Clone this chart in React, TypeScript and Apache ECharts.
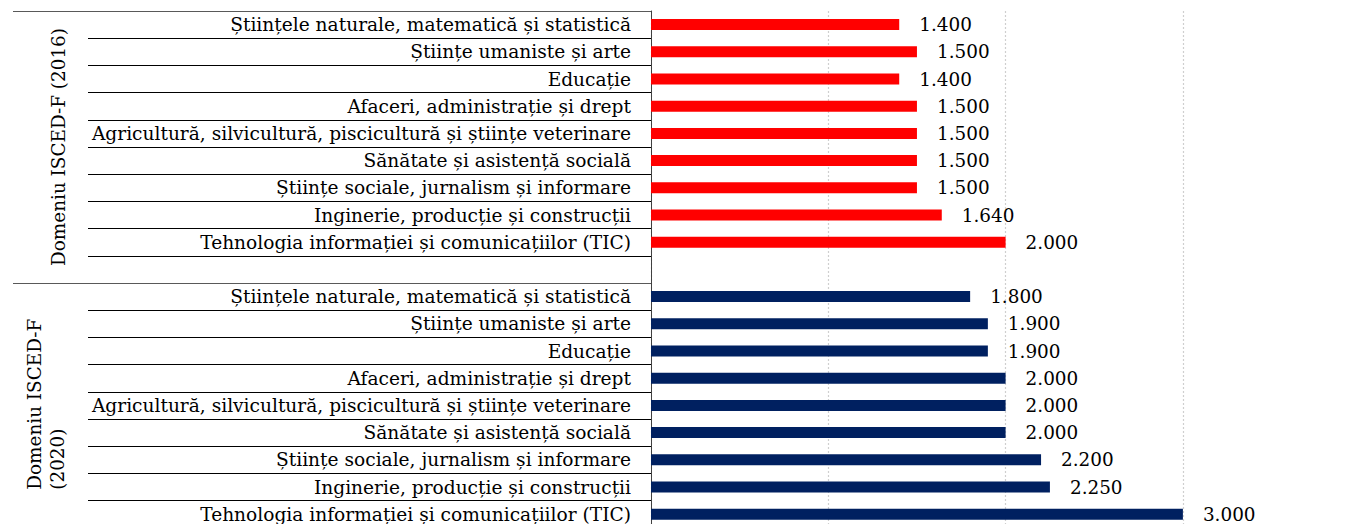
import React, { useEffect, useRef } from "react";
import * as echarts from "echarts";

const fields: string[] = [
  "Științele naturale, matematică și statistică",
  "Științe umaniste și arte",
  "Educație",
  "Afaceri, administrație și drept",
  "Agricultură, silvicultură, piscicultură și științe veterinare",
  "Sănătate și asistență socială",
  "Științe sociale, jurnalism și informare",
  "Inginerie, producție și construcții",
  "Tehnologia informației și comunicațiilor (TIC)",
];

const values2016: number[] = [1400, 1500, 1400, 1500, 1500, 1500, 1500, 1640, 2000];
const values2020: number[] = [1800, 1900, 1900, 2000, 2000, 2000, 2200, 2250, 3000];

const groupLabels: string[] = ["Domeniu ISCED-F (2016)", "Domeniu ISCED-F\n(2020)"];
const groupKeys: string[] = ["2016", "2020"];

const xTicks: number[] = [0, 1000, 2000, 3000, 4000];

const FONT = "'DejaVu Serif', 'Liberation Serif', serif";
const FS = 18.4;
const FS_CAT = 18.6;

function fmt(v: number): string {
  return String(v).replace(/\B(?=(\d{3})+(?!\d))/g, ".");
}

export default function App() {
  const ref = useRef<HTMLDivElement>(null);

  useEffect(() => {
    if (!ref.current) return;
    const chart = echarts.init(ref.current, undefined, { renderer: "svg" });

    // category list: each group = fields + one blank row
    const cats: string[] = [...fields, "", ...fields, ""];
    const n = cats.length;
    const d2016 = cats.map((_, i) => (i < fields.length ? values2016[i] : null));
    const d2020 = cats.map((_, i) => {
      const j = i - (fields.length + 1);
      return j >= 0 && j < fields.length ? values2020[j] : null;
    });

    const gridLeft = 651;
    const gridTop = 11;
    const rowH = 27.2;
    const gridH = rowH * n;
    const gridW = 709.2;

    const groupH = rowH * (fields.length + 1);

    const labelStyle = {
      show: true,
      position: "right" as const,
      distance: 20,
      color: "#000",
      fontFamily: FONT,
      fontSize: FS,
      formatter: (p: any) => (p.value == null ? "" : fmt(p.value)),
    };

    chart.setOption({
      animation: false,
      backgroundColor: "#fff",
      textStyle: { fontFamily: FONT },
      grid: {
        left: gridLeft,
        top: gridTop,
        width: gridW,
        height: gridH,
        containLabel: false,
        outerBoundsMode: "none",
      },
      xAxis: {
        type: "value",
        min: xTicks[0],
        max: xTicks[xTicks.length - 1],
        interval: xTicks[1] - xTicks[0],
        axisLabel: { show: false },
        axisLine: { show: false },
        axisTick: { show: false },
        splitLine: {
          show: true,
          lineStyle: { color: "#cfcfcf", width: 1.2, type: [2, 2] },
        },
      },
      yAxis: [
        {
          type: "category",
          data: cats,
          inverse: true,
          axisLine: { show: true, lineStyle: { color: "#404040", width: 1 } },
          axisTick: {
            show: true,
            interval: 0,
            length: gridLeft - 88,
            lineStyle: { color: "#000", width: 1 },
          },
          axisLabel: {
            interval: 0,
            margin: 20,
            color: "#000",
            fontFamily: FONT,
            fontSize: FS_CAT,
          },
          splitLine: { show: false },
        },
        {
          type: "category",
          data: groupKeys,
          inverse: true,
          position: "left",
          z: 5,
          axisLine: { show: false },
          axisTick: {
            show: true,
            interval: 0,
            length: gridLeft - 13,
            lineStyle: { color: "#595959", width: 1 },
          },
          axisLabel: { show: false },
          splitLine: { show: false },
        },
      ],
      series: [
        {
          name: "2016",
          type: "bar",
          yAxisIndex: 0,
          data: d2016,
          barWidth: 11,
          barGap: "-100%",
          itemStyle: { color: "#ff0000" },
          label: labelStyle,
        },
        {
          name: "2020",
          type: "bar",
          yAxisIndex: 0,
          data: d2020,
          barWidth: 11,
          barGap: "-100%",
          itemStyle: { color: "#002060" },
          label: labelStyle,
        },
      ],
      graphic: [
        {
          type: "text",
          x: 58,
          y: gridTop + groupH / 2,
          rotation: Math.PI / 2,
          style: {
            text: groupLabels[0],
            fill: "#000",
            fontFamily: FONT,
            fontSize: FS,
            textAlign: "center",
            textVerticalAlign: "middle",
          },
        },
        {
          type: "text",
          x: 46,
          y: gridTop + groupH + groupH * 0.76,
          rotation: Math.PI / 2,
          style: {
            text: groupLabels[1],
            fill: "#000",
            fontFamily: FONT,
            fontSize: FS,
            lineHeight: 23,
            textAlign: "left",
            textVerticalAlign: "middle",
          },
        },
      ],
    });

    return () => chart.dispose();
  }, []);

  return (
    <div
      style={{
        position: "fixed",
        left: 0,
        top: 0,
        width: 1346,
        height: 524,
        overflow: "hidden",
        background: "#fff",
      }}
    >
      <div ref={ref} style={{ width: 1380, height: 580 }} />
    </div>
  );
}
